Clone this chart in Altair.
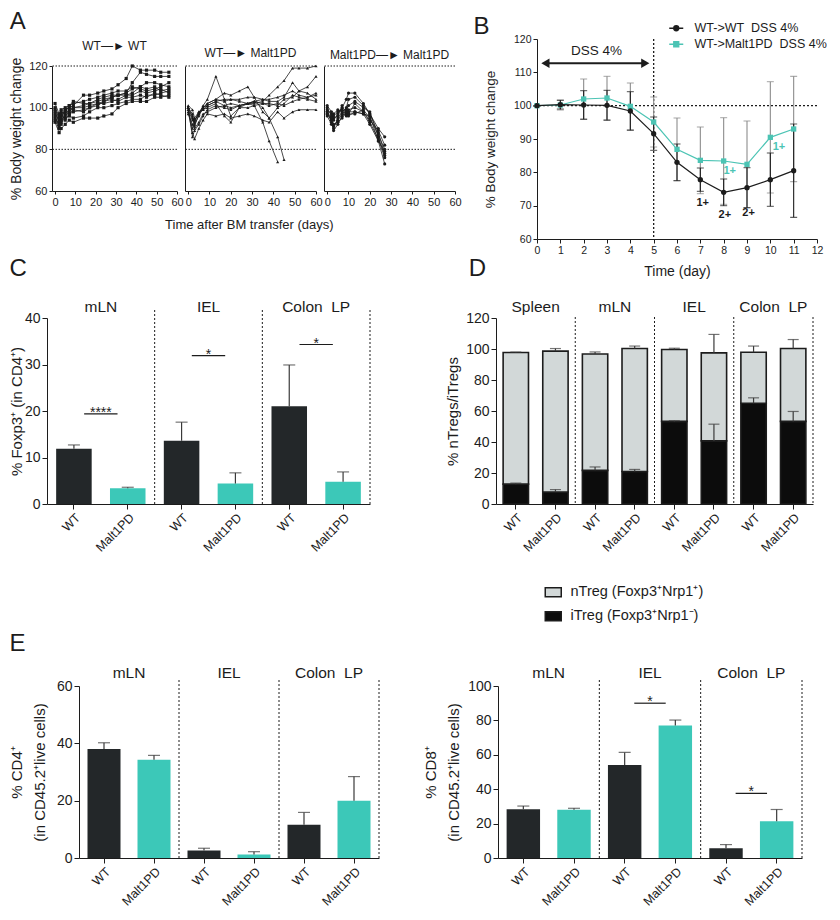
import altair as alt
import pandas as pd

FONT = "Liberation Sans"
INK = "#1c1c1c"
BAR_DARK = "#232729"
BAR_TEAL = "#3cc8b8"
LINE_TEAL = "#4cc4b4"
ERR_DARK = "#3a3a3a"
ERR_GREY = "#8c8c8c"
NTREG_FILL = "#d2d8d8"
ITREG_FILL = "#0c0c0c"
GENOS = ["WT", "Malt1PD"]

# ---------------- Panel A : body weight after BM transfer ----------------
A_XTICKS = [0, 10, 20, 30, 40, 50, 60]
A_YTICKS = [60, 80, 100, 120]
A_REF = [80, 120]
A_TITLES = ["WT\u2014\u25ba WT", "WT\u2014\u25ba Malt1PD", "Malt1PD\u2014\u25ba Malt1PD"]
A_XTITLE = "Time after BM transfer (days)"

A1_DAYS = [0, 2, 3, 5, 7, 9, 14, 17, 21, 24, 28, 31, 35, 38, 42, 45, 49, 52, 56]
A1_MICE = [
    [97, 94, 96, 99, 100, 101, 106, 106, 107, 108, 109, 111, 114, 120, 118, 118, 118, 117, 117],
    [100, 96, 98, 97, 99, 100, 101, 102, 103, 104, 105, 106, 107, 112, 117, 116, 115, 115, 115],
    [95, 92, 94, 96, 98, 100, 100, 101, 102, 103, 105, 106, 106, 107, 110, 112, 112, 111, 110],
    [93, 88, 90, 92, 94, 93, 95, 95, 95, 96, 97, 100, 102, 103, 103, 103, 105, 105, 106],
    [96, 91, 93, 95, 96, 95, 96, 98, 100, 100, 101, 102, 103, 104, 104, 106, 106, 107, 108],
    [102, 97, 99, 100, 101, 102, 103, 104, 105, 106, 107, 108, 108, 110, 109, 108, 109, 110, 112],
    [99, 95, 92, 98, 101, 103, 102, 102, 104, 105, 106, 106, 107, 109, 110, 109, 110, 108, 109],
    [94, 90, 97, 94, 97, 98, 99, 100, 102, 102, 103, 104, 106, 106, 108, 107, 108, 109, 107],
    [98, 93, 95, 99, 97, 99, 98, 100, 101, 103, 104, 103, 105, 105, 106, 105, 107, 106, 105],
]

A2_DAYS = [0, 2, 3, 5, 7, 9, 13, 17, 20, 24, 28, 31, 35, 38, 42, 45, 49, 52, 56, 60]
A2_MICE = [
    [100, 97, 92, 96, 100, 102, 104, 103, 104, 103, 102, 102, 103, 106, 110, 113, 119, 119, 119, 120],
    [101, 99, 95, 98, 99, 101, 103, 104, 104, 104, 105, 105, 104, 103, 103, 105, 112, 108, 110, 115],
    [99, 90, 94, 97, 101, 104, 115, 104, 96, 100, 102, 103, 102, 102, 101, 104, 105, 108, 107, 104],
    [100, 95, 93, 98, 100, 102, 104, 107, 106, 108, 110, 105, 98, 95, 100, 102, 106, 105, 104, 103],
    [98, 88, 85, 90, 94, 97, 96, 97, 95, 96, 97, 96, 94, 93, 98, 95, 98, 99, 99, 99],
    [100, 86, 89, 92, 96, 99, 101, 100, 99, 101, 102, 101, 102, 101, 102, 101, 103, 104, 105, 106],
    [97, 92, 90, 93, 97, 98, 100, 101, 102, 101, 102, 103, 104, 104, 105, 106, 108, 106, 105, 107],
    [100, 96, 91, 97, 99, 100, 102, 96, 93, 100, 100, 101, 93, 84, 74, None, None, None, None, None],
    [99, 94, 94, 97, 100, 101, 103, 101, 100, 101, 102, 103, 100, 95, 86, 75, None, None, None, None],
]

A3_DAYS = [0, 2, 3, 5, 7, 9, 10, 13, 17, 20, 24, 27]
A3_MICE = [
    [100, 96, 94, 97, 100, 104, 107, 107, 102, 97, 88, 78],
    [98, 93, 90, 95, 98, 100, 104, 105, 101, 97, 90, 86],
    [97, 94, 89, 92, 96, 99, 101, 103, 100, 98, 86, 77],
    [99, 97, 95, 96, 101, 97, 98, 98, 97, 96, 84, 73],
    [96, 92, 91, 94, 97, 96, 97, 97, 99, 95, 87, 80],
    [98, 95, 97, 99, 98, 97, 99, 100, 98, 93, 85, 76],
    [101, 98, 96, 98, 99, 98, 97, 102, 98, 94, 89, 82],
    [97, 95, 92, 93, 95, 98, 96, 98, 97, 92, 84, 79],
]

# ---------------- Panel B : DSS colitis ----------------
B_DAYS = [0, 1, 2, 3, 4, 5, 6, 7, 8, 9, 10, 11]
B_XTICKS = [0, 1, 2, 3, 4, 5, 6, 7, 8, 9, 10, 11, 12]
B_YTICKS = [60, 70, 80, 90, 100, 110, 120]
B_SERIES = ["WT->WT\u00a0 DSS 4%", "WT->Malt1PD\u00a0 DSS 4%"]
B_WT_MEAN = [100, 100.3, 100.2, 100.1, 98.4, 91.6, 83.0, 77.8, 74.0, 75.4, 77.8, 80.5]
B_WT_ERR = [0, 1.3, 4.3, 4.5, 5.8, 5.0, 5.5, 3.5, 4.0, 6.0, 8.0, 14.0]
B_PD_MEAN = [100, 100.2, 102.0, 102.3, 99.8, 95.1, 86.9, 83.6, 83.4, 82.4, 90.5, 93.0]
B_PD_ERR = [0, 1.5, 6.0, 6.5, 7.0, 7.5, 9.4, 10.0, 13.0, 13.0, 16.7, 15.8]
B_ANN_WT_TEXT = ["1+", "2+", "2+"]
B_ANN_WT_X = [7.1, 8.05, 9.07]
B_ANN_WT_Y = [70.7, 67.3, 67.7]
B_ANN_PD_TEXT = ["1+", "1+"]
B_ANN_PD_X = [8.26, 10.37]
B_ANN_PD_Y = [80.3, 87.5]
B_REF_DAY = [5]
B_REF_WEIGHT = [100]
B_ARROW_X = [0.45]
B_ARROW_X2 = [4.55]
B_ARROW_Y = [112.7]
B_HEAD_LEFT_X = [0.36]
B_HEAD_RIGHT_X = [4.64]
B_DSS_TEXT = ["DSS 4%"]
B_DSS_X = [2.55]
B_DSS_Y = [116.4]
# legend glyphs: a short line with the series marker on it
B_LEGEND_GLYPHS = ["M-1.4,0H1.4M-0.5,0A0.5,0.5,0,1,0,0.5,0A0.5,0.5,0,1,0,-0.5,0Z",
                   "M-1.4,0H1.4M-0.5,-0.5H0.5V0.5H-0.5Z"]

# ---------------- Panel C : % Foxp3+ ----------------
C_TISSUES = ["mLN", "IEL", "Colon\u00a0 LP"]
C_WT = [11.9, 13.6, 21.0]
C_WT_ERR = [0.8, 4.0, 8.9]
C_PD = [3.4, 4.4, 4.8]
C_PD_ERR = [0.2, 2.3, 2.1]
C_SIG_Y = [19.4, 31.9, 34.3]
C_SIG_TEXT = ["****", "*", "*"]
C_YTICKS = [0, 10, 20, 30, 40]

# ---------------- Panel D : nTreg / iTreg ----------------
D_TISSUES = ["Spleen", "mLN", "IEL", "Colon\u00a0 LP"]
D_PARTS = ["nTreg (Foxp3\u207aNrp1\u207a)", "iTreg (Foxp3\u207aNrp1\u207b)"]
D_ITREG_WT = [12.8, 21.7, 53.3, 65.0]
D_ITREG_WT_ERR = [0.7, 2.2, 0.4, 3.5]
D_ITREG_PD = [7.7, 21.0, 40.7, 53.3]
D_ITREG_PD_ERR = [1.6, 1.3, 10.8, 6.4]
D_TOTAL_WT = [97.7, 96.8, 99.7, 97.9]
D_TOTAL_WT_ERR = [0.3, 1.3, 0.8, 4.0]
D_TOTAL_PD = [98.6, 100.3, 97.5, 100.3]
D_TOTAL_PD_ERR = [1.7, 1.6, 11.9, 5.8]
D_YTICKS = [0, 20, 40, 60, 80, 100, 120]

# ---------------- Panel E : CD4 / CD8 ----------------
E_TISSUES = ["mLN", "IEL", "Colon\u00a0 LP"]
E_CD4_WT = [38.0, 2.6, 11.6]
E_CD4_WT_ERR = [2.2, 0.8, 4.3]
E_CD4_PD = [34.3, 1.25, 20.0]
E_CD4_PD_ERR = [1.5, 0.95, 8.4]
E_CD4_YTICKS = [0, 20, 40, 60]
E_CD8_WT = [28.4, 54.0, 5.7]
E_CD8_WT_ERR = [1.8, 7.4, 2.1]
E_CD8_PD = [28.0, 77.1, 21.4]
E_CD8_PD_ERR = [0.9, 3.1, 6.8]
E_CD8_SIG_Y = [None, 90.0, 37.6]
E_CD8_SIG_TEXT = ["", "*", "*"]
E_CD8_YTICKS = [0, 20, 40, 60, 80, 100]


def letter(text, offset, dx=0, dy=0):
    return alt.TitleParams(text, anchor="start", fontSize=24, fontWeight="normal",
                           offset=offset, dx=dx, dy=dy, color=INK)


def indep(c):
    return c.resolve_scale(color="independent", shape="independent", stroke="independent").resolve_legend(
        color="independent", shape="independent", stroke="independent")


def spacer():
    # empty cell, only used to anchor the grid layout
    return alt.Chart(pd.DataFrame({"s": []})).mark_point(opacity=0).properties(width=1, height=1)


# ---------------- builders ----------------
def a_panel(days, mice, shape, title, first, width):
    rows = []
    for i, series in enumerate(mice):
        for d, v in zip(days, series):
            if v is not None:
                rows.append({"mouse": i, "day": d, "weight": v})
    df = pd.DataFrame(rows)
    xs = alt.Scale(domain=[-1.5, 60], nice=False, zero=False)
    ys = alt.Scale(domain=[60, 120], nice=False, zero=False)
    xax = alt.Axis(title=None, values=A_XTICKS, labelFlush=False, labelFontSize=11, tickSize=3, labelPadding=2)
    if first:
        yax = alt.Axis(values=A_YTICKS, labelFontSize=11, tickSize=3, labelPadding=2,
                       title="% Body weight change", titleFontSize=14, titlePadding=5)
    else:
        yax = alt.Axis(labels=False, ticks=False, title=None)
    x = alt.X("day:Q", scale=xs, axis=xax)
    y = alt.Y("weight:Q", scale=ys, axis=yax)
    ref = alt.Chart(pd.DataFrame({"weight": A_REF})).mark_rule(
        color=INK, strokeDash=[1.5, 1.5], strokeWidth=1).encode(y=y)
    lines = alt.Chart(df).mark_line(color=INK, strokeWidth=0.8).encode(
        x=x, y=y, detail="mouse:N")
    pts = alt.Chart(df).mark_point(shape=shape, filled=True, size=10, color=INK, opacity=1).encode(
        x=x, y=y)
    return alt.layer(ref, lines, pts).properties(
        width=width, height=125,
        title=alt.TitleParams(title, fontSize=12, fontWeight="normal", offset=4, color=INK))


def b_panel():
    rows = []
    for s, means, errs in [(B_SERIES[0], B_WT_MEAN, B_WT_ERR), (B_SERIES[1], B_PD_MEAN, B_PD_ERR)]:
        for d, m, e in zip(B_DAYS, means, errs):
            rows.append({"series": s, "day": d, "weight": m, "lo": m - e, "hi": m + e})
    df = pd.DataFrame(rows)

    def bx(field="day"):
        return alt.X(f"{field}:Q", scale=alt.Scale(domain=[0, 12], nice=False),
                     axis=alt.Axis(values=B_XTICKS, labelFlush=False, labelFontSize=10.5, tickSize=4,
                                   labelPadding=2, title="Time (day)", titleFontSize=14, titlePadding=9))

    def by(field="weight"):
        return alt.Y(f"{field}:Q", scale=alt.Scale(domain=[60, 120], nice=False, zero=False),
                     axis=alt.Axis(values=B_YTICKS, labelFontSize=10.5, tickSize=4, labelPadding=2,
                                   title="% Body weight change", titleFontSize=13.5, titlePadding=16))

    leg = alt.Legend(title=None, orient="none", legendX=133, legendY=-17, labelFontSize=12.5,
                     symbolSize=100, symbolStrokeWidth=1.3, symbolOpacity=1, rowPadding=3,
                     labelOffset=12, labelColor=INK)
    hline = alt.Chart(pd.DataFrame({"weight": B_REF_WEIGHT})).mark_rule(
        color=INK, strokeDash=[2, 2], strokeWidth=1.3).encode(y=by())
    vline = alt.Chart(pd.DataFrame({"day": B_REF_DAY})).mark_rule(
        color=INK, strokeDash=[2, 2], strokeWidth=1.3).encode(x=bx())
    layers = [hline, vline]
    series_style = [(B_SERIES[1], ERR_GREY, LINE_TEAL, "square"), (B_SERIES[0], INK, INK, "circle")]
    for s, ecol, col, shp in series_style:
        sub = df[df["series"] == s]
        layers.append(alt.Chart(sub).mark_rule(color=ecol, strokeWidth=1.1).encode(x=bx(), y=by("lo"), y2="hi"))
        layers.append(alt.Chart(sub).mark_tick(orient="horizontal", size=7, thickness=1.1, color=ecol).encode(
            x=bx(), y=by("lo")))
        layers.append(alt.Chart(sub).mark_tick(orient="horizontal", size=7, thickness=1.1, color=ecol).encode(
            x=bx(), y=by("hi")))
    for s, ecol, col, shp in series_style:
        sub = df[df["series"] == s]
        layers.append(alt.Chart(sub).mark_line(strokeWidth=1.2, color=col).encode(x=bx(), y=by()))
        layers.append(alt.Chart(sub).mark_point(filled=True, size=28, opacity=1, color=col, shape=shp).encode(
            x=bx(), y=by()))
    # legend carrier (invisible marks, visible legend)
    layers.append(alt.Chart(df).mark_point(filled=True, opacity=0).encode(
        x=bx(), y=by(),
        color=alt.Color("series:N", scale=alt.Scale(domain=B_SERIES, range=[INK, LINE_TEAL]), legend=leg),
        stroke=alt.Stroke("series:N", scale=alt.Scale(domain=B_SERIES, range=[INK, LINE_TEAL]), legend=leg),
        shape=alt.Shape("series:N", scale=alt.Scale(domain=B_SERIES, range=B_LEGEND_GLYPHS), legend=leg)))

    arrow = pd.DataFrame({"day": B_ARROW_X, "day2": B_ARROW_X2, "weight": B_ARROW_Y})
    layers.append(alt.Chart(arrow).mark_rule(color=INK, strokeWidth=2).encode(x=bx(), x2="day2", y=by()))
    layers.append(alt.Chart(pd.DataFrame({"day": B_HEAD_LEFT_X, "weight": B_ARROW_Y})).mark_point(
        shape="triangle-left", filled=True, size=90, color=INK, opacity=1).encode(x=bx(), y=by()))
    layers.append(alt.Chart(pd.DataFrame({"day": B_HEAD_RIGHT_X, "weight": B_ARROW_Y})).mark_point(
        shape="triangle-right", filled=True, size=90, color=INK, opacity=1).encode(x=bx(), y=by()))
    layers.append(alt.Chart(pd.DataFrame({"day": B_DSS_X, "weight": B_DSS_Y, "t": B_DSS_TEXT})).mark_text(
        fontSize=13.5, color=INK, baseline="middle").encode(x=bx(), y=by(), text="t:N"))
    layers.append(alt.Chart(pd.DataFrame({"day": B_ANN_WT_X, "weight": B_ANN_WT_Y, "t": B_ANN_WT_TEXT})).mark_text(
        fontSize=11, fontWeight="bold", color=INK, baseline="middle").encode(x=bx(), y=by(), text="t:N"))
    layers.append(alt.Chart(pd.DataFrame({"day": B_ANN_PD_X, "weight": B_ANN_PD_Y, "t": B_ANN_PD_TEXT})).mark_text(
        fontSize=11, fontWeight="bold", color=LINE_TEAL, baseline="middle").encode(x=bx(), y=by(), text="t:N"))
    return alt.layer(*layers).properties(width=280, height=200, title=letter("B", 0, dx=-10, dy=17))


def cat_x(cats, band=None):
    kw = dict(scale=alt.Scale(domain=cats, paddingInner=0, paddingOuter=0),
              axis=alt.Axis(title=None, labelExpr="split(datum.value, '|')[1]", labelAngle=315,
                            labelAlign="right", labelBaseline="top", labelFontSize=12.5, labelPadding=2,
                            tickSize=5, labelColor=INK))
    if band is not None:
        kw["bandPosition"] = band
    return alt.X("cat:N", **kw)


def val_y(field, yticks, title, pad, lh=None):
    kw = dict(values=yticks, title=title, labelFontSize=14, titleFontSize=15, tickSize=5,
              labelPadding=2, titlePadding=pad)
    if lh:
        kw["titleLineHeight"] = lh
    return alt.Y(f"{field}:Q", scale=alt.Scale(domain=[yticks[0], yticks[-1]], nice=False),
                 axis=alt.Axis(**kw))


def frame_layers(cats, tissues, height, head_y, sep_top):
    sep = alt.Chart(pd.DataFrame({"cat": [f"{t}|Malt1PD" for t in tissues]})).mark_rule(
        color=INK, strokeDash=[2, 2], strokeWidth=1).encode(
        x=cat_x(cats, 1), y=alt.value(sep_top), y2=alt.value(height))
    head = alt.Chart(pd.DataFrame({"cat": [f"{t}|WT" for t in tissues], "tissue": tissues})).mark_text(
        fontSize=15.5, baseline="alphabetic", color=INK).encode(
        x=cat_x(cats, 1), y=alt.value(head_y), text="tissue:N")
    return [sep, head]


def bar_panel(tissues, wt, wt_err, pdm, pd_err, sig_y, sig_txt, yticks, ytitle, width, height,
              head_y, sep_top, title, title_offset, title_dx, pad, lh=None, cap=12):
    cats = [f"{t}|{g}" for t in tissues for g in GENOS]
    rows = []
    for t, a, ae, b, be in zip(tissues, wt, wt_err, pdm, pd_err):
        rows.append({"cat": f"{t}|WT", "geno": "WT", "val": a, "hi": a + ae})
        rows.append({"cat": f"{t}|Malt1PD", "geno": "Malt1PD", "val": b, "hi": b + be})
    df = pd.DataFrame(rows)

    def Y(f):
        return val_y(f, yticks, ytitle, pad, lh)

    bars = alt.Chart(df).mark_bar(width=alt.RelativeBandSize(0.66)).encode(
        x=cat_x(cats), y=Y("val"),
        color=alt.Color("geno:N", scale=alt.Scale(domain=GENOS, range=[BAR_DARK, BAR_TEAL]), legend=None))
    err = alt.Chart(df).mark_rule(color=ERR_DARK, strokeWidth=1.2).encode(x=cat_x(cats), y=Y("val"), y2="hi")
    caps = alt.Chart(df).mark_tick(orient="horizontal", size=cap, thickness=1.2, color=ERR_DARK).encode(
        x=cat_x(cats), y=Y("hi"))
    layers = [bars, err, caps] + frame_layers(cats, tissues, height, head_y, sep_top)
    srows = [{"cat": f"{t}|WT", "cat2": f"{t}|Malt1PD", "y": s, "txt": tx}
             for t, s, tx in zip(tissues, sig_y, sig_txt) if s is not None]
    if srows:
        sdf = pd.DataFrame(srows)
        layers.append(alt.Chart(sdf).mark_rule(color=INK, strokeWidth=1.2).encode(
            x=cat_x(cats, 0.69), x2=alt.X2("cat2", bandPosition=0.31), y=Y("y")))
        layers.append(alt.Chart(sdf).mark_text(fontSize=14, baseline="alphabetic", dy=3, color=INK).encode(
            x=cat_x(cats, 1), y=Y("y"), text="txt:N"))
    return alt.layer(*layers).properties(width=width, height=height,
                                         title=letter(title, title_offset, dx=title_dx))


def d_panel():
    cats = [f"{t}|{g}" for t in D_TISSUES for g in GENOS]
    brows, erows = [], []
    for i, t in enumerate(D_TISSUES):
        for g, it, ite, tot, tote in [("WT", D_ITREG_WT[i], D_ITREG_WT_ERR[i], D_TOTAL_WT[i], D_TOTAL_WT_ERR[i]),
                                      ("Malt1PD", D_ITREG_PD[i], D_ITREG_PD_ERR[i], D_TOTAL_PD[i], D_TOTAL_PD_ERR[i])]:
            c = f"{t}|{g}"
            brows.append({"cat": c, "part": D_PARTS[1], "lo": 0, "hi": it})
            brows.append({"cat": c, "part": D_PARTS[0], "lo": it, "hi": tot})
            erows.append({"cat": c, "lo": it, "hi": it + ite})
            erows.append({"cat": c, "lo": tot, "hi": tot + tote})
    bdf = pd.DataFrame(brows)
    edf = pd.DataFrame(erows)
    height = 186

    def Y(f):
        return val_y(f, D_YTICKS, "% nTregs/iTregs", 5)

    leg = alt.Legend(title=None, orient="none", legendX=50, legendY=267, labelFontSize=14.5,
                     symbolType="M-1.6,-0.9H1.6V0.9H-1.6Z", symbolSize=100, symbolStrokeColor=INK,
                     symbolStrokeWidth=1.5, rowPadding=8, labelOffset=10, labelColor=INK)
    bars = alt.Chart(bdf).mark_bar(width=alt.RelativeBandSize(0.64), stroke=INK, strokeWidth=1.6).encode(
        x=cat_x(cats), y=Y("hi"), y2="lo",
        color=alt.Color("part:N", scale=alt.Scale(domain=D_PARTS, range=[NTREG_FILL, ITREG_FILL]), legend=leg))
    err = alt.Chart(edf).mark_rule(color=ERR_DARK, strokeWidth=1.2).encode(x=cat_x(cats), y=Y("lo"), y2="hi")
    caps = alt.Chart(edf).mark_tick(orient="horizontal", size=11, thickness=1.2, color=ERR_DARK).encode(
        x=cat_x(cats), y=Y("hi"))
    layers = [bars, err, caps] + frame_layers(cats, D_TISSUES, height, -6, -1)
    return alt.layer(*layers).properties(width=317, height=height, title=letter("D", 19, dx=23))


# ---------------- assemble ----------------
a1 = a_panel(A1_DAYS, A1_MICE, "square", A_TITLES[0], True, 125)
a2 = a_panel(A2_DAYS, A2_MICE, "triangle-up", A_TITLES[1], False, 131)
a3 = a_panel(A3_DAYS, A3_MICE, "circle", A_TITLES[2], False, 131)
inner_a = alt.hconcat(a1, a2, a3, spacing=0,
                      title=alt.TitleParams(A_XTITLE, orient="bottom", anchor="middle", fontSize=13,
                                            fontWeight="normal", offset=12, dx=14, color=INK))
group_a = alt.vconcat(spacer(), inner_a, spacing=0, title=letter("A", 5))

chart_b = b_panel()

chart_c = bar_panel(C_TISSUES, C_WT, C_WT_ERR, C_PD, C_PD_ERR, C_SIG_Y, C_SIG_TEXT, C_YTICKS,
                    "% Foxp3\u207a (in CD4\u207a)", 323, 186, -6, -8, "C", 19, 0, 0)
chart_d = d_panel()

chart_e1 = bar_panel(E_TISSUES, E_CD4_WT, E_CD4_WT_ERR, E_CD4_PD, E_CD4_PD_ERR, [None, None, None],
                     ["", "", ""], E_CD4_YTICKS, ["% CD4\u207a", "(in CD45.2\u207alive cells)"],
                     300, 172, -8, -6, "E", 10, 0, 9, lh=23)
chart_e2 = bar_panel(E_TISSUES, E_CD8_WT, E_CD8_WT_ERR, E_CD8_PD, E_CD8_PD_ERR, E_CD8_SIG_Y,
                     E_CD8_SIG_TEXT, E_CD8_YTICKS, ["% CD8\u207a", "(in CD45.2\u207alive cells)"],
                     304, 172, -8, -6, " ", 10, 0, 6, lh=23)

row1 = indep(alt.hconcat(spacer(), indep(alt.hconcat(indep(group_a), chart_b, spacing=11)), spacing=0))
row2 = indep(alt.hconcat(spacer(), indep(alt.hconcat(chart_c, chart_d, spacing=74)), spacing=0))
row3 = indep(alt.hconcat(spacer(), indep(alt.hconcat(chart_e1, chart_e2, spacing=43)), spacing=0))
top = indep(alt.vconcat(row1, row2, spacing=-22))
chart = indep(alt.vconcat(top, row3, spacing=8,
                          padding={"top": 2, "left": 0, "right": 0, "bottom": 0})).configure(
    font=FONT).configure_view(stroke=None).configure_axis(
    domainColor=INK, tickColor=INK, labelColor=INK, titleColor=INK, titleFontWeight="normal",
    grid=False, domainWidth=1, tickWidth=1, labelFont=FONT, titleFont=FONT).configure_title(
    font=FONT, color=INK).configure_legend(labelFont=FONT)

chart.save("out.html", embed_options={"renderer": "svg", "actions": False})
